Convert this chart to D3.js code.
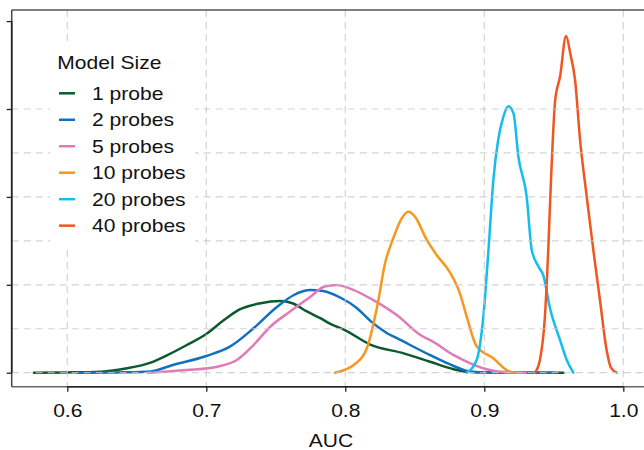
<!DOCTYPE html>
<html><head><meta charset="utf-8">
<script src="https://cdn.jsdelivr.net/npm/d3@7"></script>
<style>body{margin:0;background:#fff}svg{display:block}text{font-family:"Liberation Sans",Arial,Helvetica,sans-serif;fill:#111}</style>
</head><body><svg id="c" width="644" height="450"></svg>
<script>
const seriesNames = ["1 probe","2 probes","5 probes","10 probes","20 probes","40 probes"];
const seriesColors = ["#0b5a2f","#1170c1","#e07bb8","#f8961e","#14bdf0","#f25620"];
const xTicks = [0.6,0.7,0.8,0.9,1.0];
const xTickLabels = ["0.6","0.7","0.8","0.9","1.0"];
const yTicks = [0,10,20,30,40];
const yGrid = [0,5,10,15,20,25,30];
const xTitle = "AUC";
const legendTitle = "Model Size";

const auc1 = [0.576,0.600,0.624,0.643,0.660,0.672,0.686,0.700,0.712,0.724,0.739,0.753,0.762,0.772,0.782,0.790,0.799,0.818,0.842,0.861,0.878,0.888,0.905,0.957];
const dens1 = [0,0.03,0.12,0.5,1.15,2.0,3.15,4.4,5.9,7.2,7.9,8.15,7.9,7.0,6.2,5.5,4.9,3.2,2.2,1.25,0.4,0.1,0.02,0];
const auc2 = [0.607,0.640,0.660,0.676,0.700,0.717,0.734,0.751,0.763,0.775,0.784,0.797,0.808,0.818,0.829,0.840,0.861,0.878,0.890,0.905,0.950];
const dens2 = [0,0.05,0.15,0.88,1.9,2.96,5.05,7.5,8.84,9.4,9.3,8.5,7.4,5.9,4.6,3.7,2.0,0.76,0.12,0.02,0];
const auc5 = [0.658,0.686,0.708,0.722,0.734,0.746,0.760,0.775,0.785,0.794,0.803,0.823,0.837,0.854,0.863,0.878,0.890,0.904,0.916,0.930];
const dens5 = [0,0.3,0.68,1.44,3.15,5.23,6.94,8.65,9.8,9.98,9.6,8.0,6.56,4.29,3.53,2.0,1.07,0.3,0.05,0];
const auc10 = [0.7926,0.806,0.815,0.823,0.8286,0.8345,0.8406,0.8453,0.8501,0.8586,0.8657,0.8753,0.8825,0.8873,0.8945,0.9065,0.916,0.921];
const dens10 = [0,0.87,2.58,7.6,12.45,15.3,17.56,18.3,17.75,15.1,13.4,11.4,9.0,6.4,3.0,1.64,0.3,0];
const auc20 = [0.8873,0.8945,0.8993,0.903,0.9065,0.910,0.9137,0.9173,0.921,0.9245,0.9305,0.9341,0.939,0.9424,0.9473,0.9545,0.9593,0.964];
const dens20 = [0,1.44,6.37,13.96,21.9,26.5,29.1,30.3,29.5,24.6,20.0,14.0,12.06,11.1,7.3,3.7,1.44,0];
const auc40 = [0.9365,0.940,0.9436,0.946,0.9474,0.951,0.9545,0.9588,0.9620,0.9653,0.9689,0.9737,0.9784,0.9832,0.988,0.991,0.9952];
const dens40 = [0,1.44,6.37,13.96,19.6,31.0,33.7,38.3,36.2,33.3,26.5,20.0,14.0,8.27,2.58,0.6,0];

const seriesX = [auc1,auc2,auc5,auc10,auc20,auc40];
const seriesY = [dens1,dens2,dens5,dens10,dens20,dens40];

const svg = d3.select("#c");
const pLeft = 11.7, pTop = 10, pBottom = 386.7, pRight = 660;
const x = d3.scaleLinear().domain([0.6,1.0]).range([67.3,623.3]);
const y = d3.scaleLinear().domain([0,40]).range([372.7,21.1]);
const FS = 18, SX = 1.17;

// curves
const line = d3.line().x(d=>x(d[0])).y(d=>y(d[1])).curve(d3.curveMonotoneX);
seriesNames.forEach((n,i)=>{
  const pts = seriesX[i].map((v,j)=>[v,seriesY[i][j]]);
  svg.append("path").attr("d",line(pts)).attr("fill","none")
    .attr("stroke",seriesColors[i]).attr("stroke-width",2.5)
    .attr("stroke-linejoin","round").attr("stroke-linecap","round");
});

// grid (drawn over curves, light)
const grid = svg.append("g").attr("stroke","#c8c8c8").attr("stroke-opacity",0.8)
  .attr("stroke-width",1.2).attr("stroke-dasharray","7,5");
xTicks.forEach(t=>grid.append("line").attr("x1",x(t)).attr("x2",x(t)).attr("y1",pTop).attr("y2",pBottom));
yGrid.forEach(t=>grid.append("line").attr("x1",pLeft).attr("x2",pRight).attr("y1",y(t)).attr("y2",y(t)));

// frame
svg.append("line").attr("x1",pLeft).attr("x2",pRight).attr("y1",pTop).attr("y2",pTop).attr("stroke","#555").attr("stroke-width",1.5);
svg.append("line").attr("x1",pLeft).attr("x2",pRight).attr("y1",pBottom).attr("y2",pBottom).attr("stroke","#666").attr("stroke-width",1.5);
svg.append("line").attr("x1",pLeft).attr("x2",pLeft).attr("y1",pTop).attr("y2",pBottom).attr("stroke","#444").attr("stroke-width",1.5);

// x axis
const xa = svg.append("g").attr("transform",`translate(0,${pBottom})`)
  .call(d3.axisBottom(x).tickValues(xTicks).tickSize(5).tickFormat((d,i)=>xTickLabels[i]));
xa.select(".domain").attr("stroke","#222").attr("stroke-width",1.6).attr("d",`M${x(0.6)},0H${x(1.0)}`);
xa.selectAll(".tick line").attr("stroke","#222").attr("stroke-width",1.3);
xa.selectAll(".tick text").attr("font-size",FS).attr("dy",null).attr("y",0)
  .attr("transform",`translate(0,30) scale(${SX},1)`).attr("fill","#111");

// y axis
const ya = svg.append("g").attr("transform",`translate(${pLeft},0)`)
  .call(d3.axisLeft(y).tickValues(yTicks).tickSize(5).tickFormat(""));
ya.select(".domain").attr("stroke","#222").attr("stroke-width",1.6).attr("d",`M0,${y(0)}V${y(40)}`);
ya.selectAll(".tick line").attr("stroke","#222").attr("stroke-width",1.3);

// x title
svg.append("text").attr("transform",`translate(331,446.5) scale(${SX},1)`).attr("text-anchor","middle").attr("font-size",FS).text(xTitle);

// legend
const lg = svg.append("g");
lg.append("rect").attr("x",50).attr("y",42).attr("width",145).attr("height",205).attr("fill","#fff");
lg.append("text").attr("transform",`translate(57.3,68.8) scale(${SX},1)`).attr("font-size",FS).text(legendTitle);
seriesNames.forEach((n,i)=>{
  const cy = 93.3 + i*26.47;
  lg.append("line").attr("x1",59).attr("x2",75).attr("y1",cy).attr("y2",cy)
    .attr("stroke",seriesColors[i]).attr("stroke-width",2.5);
  lg.append("text").attr("transform",`translate(92,${cy+6.5}) scale(${SX},1)`).attr("font-size",FS).text(n);
});
</script></body></html>
